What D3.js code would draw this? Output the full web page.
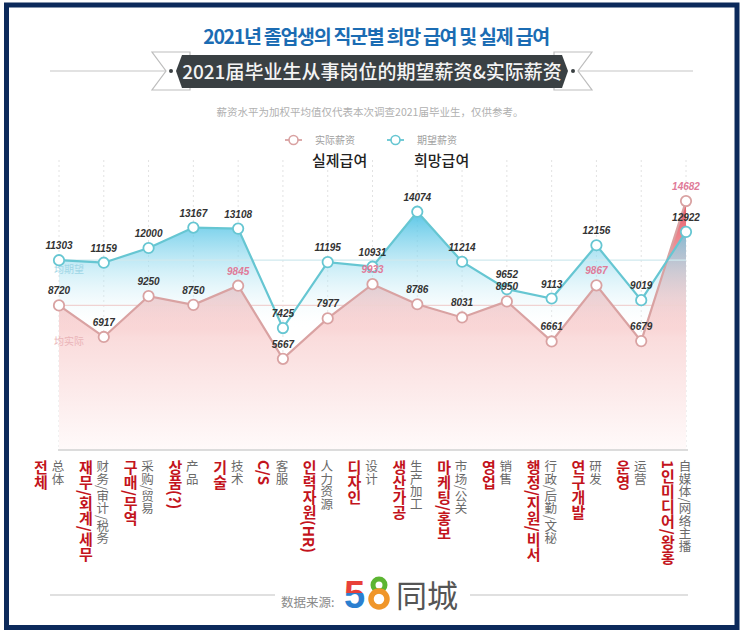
<!DOCTYPE html>
<html><head><meta charset="utf-8">
<script src="https://cdn.jsdelivr.net/npm/d3@7"></script>
<style>body{margin:0;background:#fff}svg{display:block}</style>
</head><body><svg id="c" width="743" height="636"></svg>
<script>
const categoriesZh = ["总体","财务/审计/税务","采购/贸易","产品","技术","客服","人力资源","设计","生产加工","市场/公关","销售","行政/后勤/文秘","研发","运营","自媒体/网络主播"];
const categoriesKo = ["전체","재무/회계/세무","구매/무역","상품(?)","기술","C/S","인력자원(HR)","디자인","생산가공","마케팅/홍보","영업","행정/지원/비서","연구개발","운영","1인미디어/왕홍"];
const expectedSalary = [11303,11159,12000,13167,13108,7425,11195,10931,14074,11214,9652,9113,12156,9019,12922];
const actualSalary = [8720,6917,9250,8750,9845,5667,7977,9933,8786,8031,8950,6661,9867,6679,14682];
const legendZh = ["实际薪资","期望薪资"];
const legendKo = ["실제급여","희망급여"];
const avgLabels = ["均期望","均实际"];
const titleKo = "2021년 졸업생의 직군별 희망 급여 및 실제 급여";
const titleZh = "2021届毕业生从事岗位的期望薪资&实际薪资";
const noteZh = "薪资水平为加权平均值仅代表本次调查2021届毕业生，仅供参考。";
const sourceLabel = "数据来源:";
const sourceName = "同城";

const svg = d3.select("#c");
const CJK_SC = "'Noto Sans CJK SC','Noto Sans',sans-serif";
const CJK_KR = "'Noto Sans CJK KR','Noto Sans',sans-serif";
const NUM = "'Liberation Sans',Arial,sans-serif";

// frame
svg.append("rect").attr("x",6.5).attr("y",5).attr("width",730.5).attr("height",622.5)
  .attr("fill","#fff").attr("stroke","#0c2a5b").attr("stroke-width",5);

// Title
svg.append("text").attr("x",376).attr("y",44).attr("text-anchor","middle")
  .attr("font-family",CJK_KR).attr("font-weight",700).attr("font-size",19.5)
  .attr("letter-spacing",-1.3).attr("fill","#1b6cb3").text(titleKo);

// ribbon
svg.append("line").attr("x1",50).attr("x2",693).attr("y1",71).attr("y2",71).attr("stroke","#d8d8d8").attr("stroke-width",1.5);
svg.append("polygon").attr("points","152,52 190,52 190,90 152,90 166,71").attr("fill","#fff").attr("stroke","#bdbdbd").attr("stroke-width",1.2);
svg.append("polygon").attr("points","592,52 554,52 554,90 592,90 578,71").attr("fill","#fff").attr("stroke","#bdbdbd").attr("stroke-width",1.2);
svg.append("polygon").attr("points","182,55 562,55 568,71 562,88 182,88 176,71").attr("fill","#3a4043");
svg.append("circle").attr("cx",171).attr("cy",71).attr("r",2).attr("fill","#3a4043");
svg.append("circle").attr("cx",573).attr("cy",71).attr("r",2).attr("fill","#3a4043");
svg.append("text").attr("x",372).attr("y",78.5).attr("text-anchor","middle")
  .attr("font-family",CJK_SC).attr("font-weight",500).attr("font-size",19)
  .attr("fill","#f4f4f4").text(titleZh);
svg.append("text").attr("x",370).attr("y",116).attr("text-anchor","middle")
  .attr("font-family",CJK_SC).attr("font-size",10.5).attr("fill","#b0b0b0").text(noteZh);

// scales
const x = d3.scalePoint().domain(categoriesZh).range([59,686]);
const y = d3.scaleLinear().domain([0,16000]).range([458,178]);
const baseY = 450, gridTop = 160;

const cExp = "#66c6d2", cAct = "#d9a2a2";

// gridlines
svg.append("g").selectAll("line").data(categoriesZh).join("line")
  .attr("x1",d=>x(d)).attr("x2",d=>x(d)).attr("y1",gridTop).attr("y2",baseY)
  .attr("stroke","#e2e2e2").attr("stroke-dasharray","2,3").attr("stroke-width",1);

// gradients
const defs = svg.append("defs");
const gA = defs.append("linearGradient").attr("id","gAct").attr("gradientUnits","userSpaceOnUse")
  .attr("x1",0).attr("x2",0).attr("y1",195).attr("y2",baseY);
gA.append("stop").attr("offset",0).attr("stop-color","#e4505f");
gA.append("stop").attr("offset",0.3).attr("stop-color","#f3b0b2");
gA.append("stop").attr("offset",0.56).attr("stop-color","#fadcdc");
gA.append("stop").attr("offset",1).attr("stop-color","#fffafa");
const gE = defs.append("linearGradient").attr("id","gExp").attr("gradientUnits","userSpaceOnUse")
  .attr("x1",0).attr("x2",0).attr("y1",200).attr("y2",330);
gE.append("stop").attr("offset",0).attr("stop-color","#2fb8e0").attr("stop-opacity",0.95);
gE.append("stop").attr("offset",0.35).attr("stop-color","#7fd3ec").attr("stop-opacity",0.7);
gE.append("stop").attr("offset",0.75).attr("stop-color","#d6f1f8").attr("stop-opacity",0.35);
gE.append("stop").attr("offset",1).attr("stop-color","#ffffff").attr("stop-opacity",0);

const idx = d3.range(categoriesZh.length);
const areaA = d3.area().x(i=>x(categoriesZh[i])).y0(baseY).y1(i=>y(actualSalary[i]));
const areaE = d3.area().x(i=>x(categoriesZh[i])).y0(baseY).y1(i=>y(expectedSalary[i]));
svg.append("path").attr("d",areaA(idx)).attr("fill","url(#gAct)");
svg.append("path").attr("d",areaE(idx)).attr("fill","url(#gExp)");

// average lines
const avgExp = expectedSalary[0], avgAct = actualSalary[0];
svg.append("line").attr("x1",x.range()[0]).attr("x2",x.range()[1]).attr("y1",y(avgExp)).attr("y2",y(avgExp))
  .attr("stroke","#cfe9ee").attr("stroke-width",1.2);
svg.append("line").attr("x1",x.range()[0]).attr("x2",x.range()[1]).attr("y1",y(avgAct)).attr("y2",y(avgAct))
  .attr("stroke","#f0d2d2").attr("stroke-width",1.2);
svg.append("text").attr("x",54).attr("y",y(avgExp)+13).attr("font-family",CJK_SC).attr("font-size",10)
  .attr("fill","#9fd6e6").text(avgLabels[0]);
svg.append("text").attr("x",54).attr("y",y(avgAct)+40).attr("font-family",CJK_SC).attr("font-size",10)
  .attr("fill","#eab4b8").text(avgLabels[1]);

// axis line
svg.append("line").attr("x1",x.range()[0]-1).attr("x2",x.range()[1]+2).attr("y1",baseY).attr("y2",baseY)
  .attr("stroke","#dcdcdc").attr("stroke-width",2);

// lines
const lineA = d3.line().x(i=>x(categoriesZh[i])).y(i=>y(actualSalary[i]));
const lineE = d3.line().x(i=>x(categoriesZh[i])).y(i=>y(expectedSalary[i]));
svg.append("path").attr("d",lineA(idx)).attr("fill","none").attr("stroke",cAct).attr("stroke-width",2.2);
svg.append("path").attr("d",lineE(idx)).attr("fill","none").attr("stroke",cExp).attr("stroke-width",2.2);
svg.append("g").selectAll("circle").data(idx).join("circle")
  .attr("cx",i=>x(categoriesZh[i])).attr("cy",i=>y(actualSalary[i])).attr("r",5.2)
  .attr("fill","#fff").attr("stroke",cAct).attr("stroke-width",1.8);
svg.append("g").selectAll("circle").data(idx).join("circle")
  .attr("cx",i=>x(categoriesZh[i])).attr("cy",i=>y(expectedSalary[i])).attr("r",5.2)
  .attr("fill","#fff").attr("stroke",cExp).attr("stroke-width",1.8);

// value labels
const topAct = [...actualSalary].sort((a,b)=>b-a)[3];
svg.append("g").selectAll("text").data(idx).join("text")
  .attr("x",i=>x(categoriesZh[i])).attr("y",i=>y(expectedSalary[i])-11)
  .attr("text-anchor","middle").attr("font-family",NUM).attr("font-style","italic").attr("font-weight","bold")
  .attr("font-size",10).attr("fill","#333").text(i=>expectedSalary[i]);
svg.append("g").selectAll("text").data(idx).join("text")
  .attr("x",i=>x(categoriesZh[i])).attr("y",i=>y(actualSalary[i])-11)
  .attr("text-anchor","middle").attr("font-family",NUM).attr("font-style","italic").attr("font-weight","bold")
  .attr("font-size",10).attr("fill",i=>actualSalary[i]>=topAct?"#e07a98":"#333").text(i=>actualSalary[i]);

// legend
const leg = [{c:cAct,x:285},{c:cExp,x:387}];
leg.forEach((l,k)=>{
  const g = svg.append("g");
  g.append("line").attr("x1",l.x).attr("x2",l.x+17).attr("y1",140).attr("y2",140).attr("stroke",l.c).attr("stroke-width",1.8);
  g.append("circle").attr("cx",l.x+8.5).attr("cy",140).attr("r",4.5).attr("fill","#fff").attr("stroke",l.c).attr("stroke-width",1.6);
  g.append("text").attr("x",l.x+30).attr("y",144).attr("font-family",CJK_SC).attr("font-size",10).attr("fill","#a0a0a0").text(legendZh[k]);
  g.append("text").attr("x",l.x+27).attr("y",166).attr("font-family",CJK_KR).attr("font-weight",500).attr("font-size",15).attr("fill","#222").text(legendKo[k]);
});

// category labels (vertical)
svg.append("g").selectAll("text").data(idx).join("text")
  .attr("x",i=>x(categoriesZh[i])-1).attr("y",460)
  .style("writing-mode","vertical-rl")
  .attr("font-family",CJK_SC).attr("font-size",12.5).attr("fill","#6a6a6a").text(i=>categoriesZh[i]);
svg.append("g").selectAll("text").data(idx).join("text")
  .attr("x",i=>x(categoriesZh[i])-18).attr("y",460)
  .style("writing-mode","vertical-rl")
  .attr("font-family",CJK_KR).attr("font-weight","bold").attr("font-size",15).attr("fill","#c3141c").text(i=>categoriesKo[i]);

// footer
svg.append("line").attr("x1",50).attr("x2",275).attr("y1",595).attr("y2",595).attr("stroke","#d6d6d6").attr("stroke-width",1.5);
svg.append("line").attr("x1",470).attr("x2",688).attr("y1",595).attr("y2",595).attr("stroke","#d6d6d6").attr("stroke-width",1.5);
svg.append("text").attr("x",281).attr("y",607).attr("font-family",CJK_SC).attr("font-size",12.5).attr("fill","#8a8a8a").text(sourceLabel);
const g5 = defs.append("linearGradient").attr("id","g5").attr("x1",0).attr("x2",0).attr("y1",0).attr("y2",1);
g5.append("stop").attr("offset",0.45).attr("stop-color","#e8403a");
g5.append("stop").attr("offset",0.45).attr("stop-color","#2b7fd0");
svg.append("text").attr("x",344).attr("y",608).attr("font-family",NUM).attr("font-weight","bold").attr("font-size",38).attr("fill","url(#g5)").text("5");
svg.append("circle").attr("cx",379).attr("cy",585).attr("r",6).attr("fill","none").attr("stroke","#5cb532").attr("stroke-width",5);
svg.append("circle").attr("cx",379).attr("cy",599).attr("r",8).attr("fill","none").attr("stroke","#f0962a").attr("stroke-width",5.5);
svg.append("text").attr("x",396).attr("y",607).attr("font-family",CJK_SC).attr("font-size",31).attr("fill","#555").text(sourceName);
</script></body></html>
